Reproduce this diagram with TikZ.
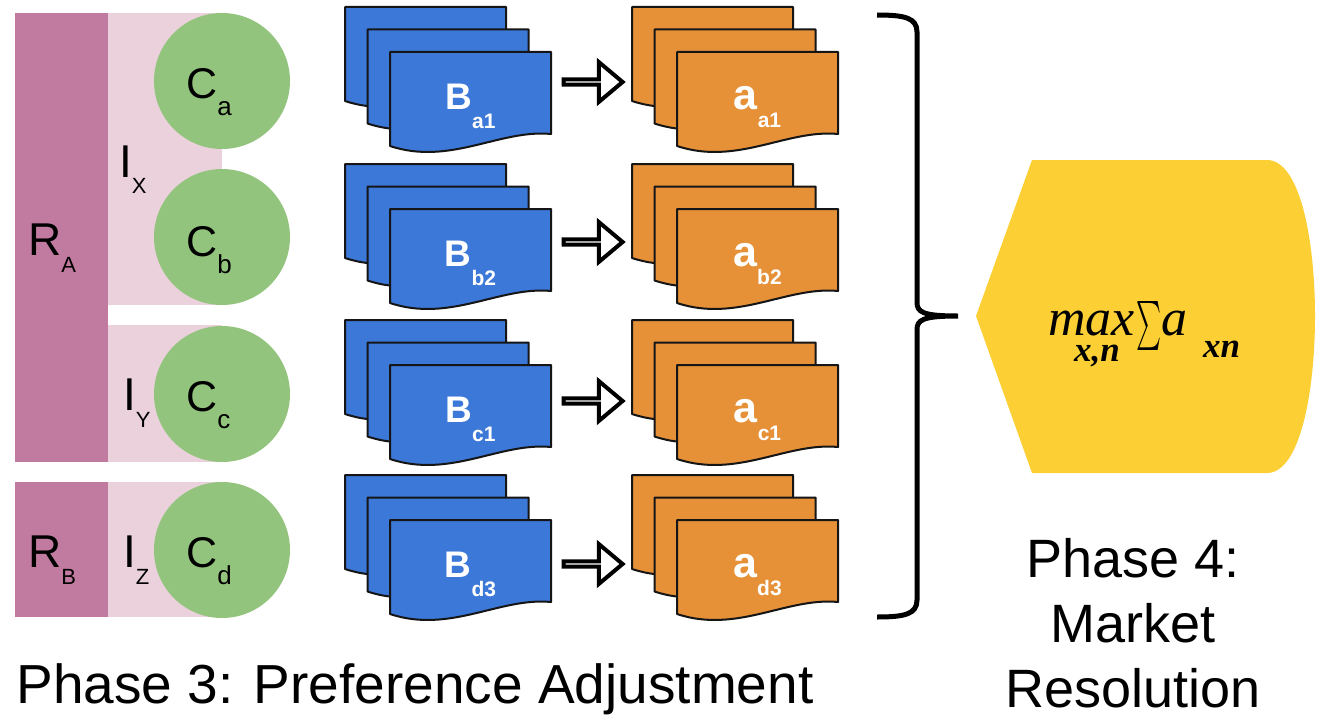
\documentclass[tikz,border=0pt]{standalone}
\usepackage{fontspec}
\setmainfont{Liberation Sans}
\newfontfamily\formulafont{Liberation Serif}
\usetikzlibrary{shapes.arrows,calc}

\definecolor{roleDark}{HTML}{C27BA0}
\definecolor{roleLight}{HTML}{EAD1DC}
\definecolor{clientGreen}{HTML}{93C47D}
\definecolor{bidBlue}{HTML}{3C78D8}
\definecolor{askOrange}{HTML}{E69138}
\definecolor{mktYellow}{RGB}{252,208,53}
\definecolor{docline}{HTML}{151515}

% font size helper and lowered subscript
\newcommand\fs[1]{\fontsize{#1}{#1}\selectfont}
\newcommand\dn[3]{\raisebox{-#1}{\fs{#2}#3}}

% one sheet of a document stack: top-left corner, colour
\newcommand\docsheet[3]{%
  \filldraw[fill=#3, draw=docline, line width=2pt, line join=round]
    ({#1},{#2}) -- ++(161,0) -- ++(0,82)
    .. controls +(-51,-5) and +(60,20) .. ++(-161,12) -- cycle;}

% stack of three sheets with a label on the front one
\newcommand\docstack[5]{%
  \docsheet{#2}{#3}{#4}
  \docsheet{#2+22.5}{#3+22.5}{#4}
  \docsheet{#2+45}{#3+45}{#4}
  \node[inner sep=0, outer sep=0, minimum width=161, minimum height=94, anchor=north west] (#1) at ({#2+45},{#3+45}) {};
  \node[doclabel] (#1-t) at ({#2+125.5},{#3+102}) {#5};}

\tikzset{
  roleblock/.style={fill=roleDark, inner sep=0, outer sep=0, anchor=north west},
  linkblock/.style={fill=roleLight, inner sep=0, outer sep=0, anchor=north west},
  client/.style={circle, fill=clientGreen, minimum size=136, inner sep=0},
  lbl/.style={anchor=base west, inner sep=0, text=black},
  doclabel/.style={anchor=base, inner sep=0, text=white, font=\bfseries},
  hollowarrow/.style={single arrow, draw=black, fill=white, line width=4pt,
    minimum height=59pt, minimum width=40pt, single arrow head extend=13pt,
    single arrow tip angle=80, inner sep=0pt, line join=miter},
  phase/.style={anchor=base, inner sep=0, font=\fs{54}},
}

\begin{document}
\begin{tikzpicture}[x=1pt,y=-1pt]
\fill[white] (0,0) rectangle (1322,717);
\useasboundingbox (0,0) rectangle (1322,717);

% resource owners and intermediaries
\node[linkblock, minimum width=114, minimum height=292] (IX) at (108,13) {};
\node[linkblock, minimum width=114, minimum height=137] (IY) at (108,325) {};
\node[linkblock, minimum width=114, minimum height=135] (IZ) at (108,482) {};
\node[roleblock, minimum width=93, minimum height=449] (RA) at (15,13) {};
\node[roleblock, minimum width=93, minimum height=135] (RB) at (15,482) {};

% clients
\node[client] (Ca) at (222,81) {};
\node[client] (Cb) at (222,237) {};
\node[client] (Cc) at (222,394) {};
\node[client] (Cd) at (222,550) {};

\node[lbl, font=\fs{46}] (RA-t) at (28,255) {R\dn{17pt}{22}{A}};
\node[lbl, font=\fs{46}] (RB-t) at (28,567) {R\dn{17pt}{22}{B}};
\node[lbl, font=\fs{46}] (IX-t) at (119,177) {I\dn{16pt}{22}{X}};
\node[lbl, font=\fs{46}] (IY-t) at (123,410) {I\dn{17pt}{22}{Y}};
\node[lbl, font=\fs{46}] (IZ-t) at (123,567) {I\dn{17pt}{22}{Z}};
\node[lbl, font=\fs{43}] (Ca-t) at (186,99) {C\dn{17pt}{26}{a}};
\node[lbl, font=\fs{43}] (Cb-t) at (186,256) {C\dn{17pt}{26}{b}};
\node[lbl, font=\fs{43}] (Cc-t) at (186,411) {C\dn{17pt}{26}{c}};
\node[lbl, font=\fs{43}] (Cd-t) at (186,567) {C\dn{17pt}{26}{d}};

% bids and asks
\docstack{Ba1}{345}{7}{bidBlue}{{\fs{37}B}\dn{19pt}{21}{a1}}
\docstack{Bb2}{345}{164}{bidBlue}{{\fs{37}B}\dn{19pt}{21}{b2}}
\docstack{Bc1}{345}{320}{bidBlue}{{\fs{37}B}\dn{19pt}{21}{c1}}
\docstack{Bd3}{345}{475}{bidBlue}{{\fs{37}B}\dn{19pt}{21}{d3}}
\docstack{Aa1}{632}{7}{askOrange}{{\fs{43}a}\dn{18pt}{21}{a1}}
\docstack{Ab2}{632}{164}{askOrange}{{\fs{43}a}\dn{18pt}{21}{b2}}
\docstack{Ac1}{632}{320}{askOrange}{{\fs{43}a}\dn{18pt}{21}{c1}}
\docstack{Ad3}{632}{475}{askOrange}{{\fs{43}a}\dn{18pt}{21}{d3}}

\node[hollowarrow] (arr1) at (591.5,82) {};
\node[hollowarrow] (arr2) at (591.5,242) {};
\node[hollowarrow] (arr3) at (591.5,401) {};
\node[hollowarrow] (arr4) at (591.5,564) {};

% brace collecting all asks
\draw[line width=5pt, line cap=butt, line join=miter]
  (877,15) .. controls (905,15) and (917,18) .. (917,32) -- (917,302)
  .. controls (917,312) and (922,316) .. (958,316)
  .. controls (922,316) and (917,320) .. (917,330) -- (917,600)
  .. controls (917,614) and (905,617) .. (877,617);

% market resolution
\fill[mktYellow] (976,316) -- (1032,160) -- (1267,160)
  .. controls (1300,160) and (1315,240) .. (1315,316)
  .. controls (1315,392) and (1300,473) .. (1267,473)
  -- (1032,473) -- cycle;
\node[anchor=base west, inner sep=0, font=\formulafont\itshape\fs{52}] (fmax) at (1048,335) {max};
\node[anchor=base, inner sep=0, font=\formulafont\bfseries\itshape\fs{35}] (fidx) at (1097,361) {x,n};
\node[inner sep=0] (fsum) at (1149,326) {\resizebox*{25pt}{49pt}{$\sum$}};
\node[anchor=base west, inner sep=0, font=\formulafont\itshape\fs{52}] (fa) at (1161,335) {a};
\node[anchor=base west, inner sep=0, font=\formulafont\bfseries\itshape\fs{35}] (fsub) at (1203,357) {xn};

% phase captions
\node[phase, font=\fs{55}] (ph3) at (415,703) {Phase 3: Preference Adjustment};
\node[phase] (ph4a) at (1133,577) {Phase 4:};
\node[phase] (ph4b) at (1133,642) {Market};
\node[phase] (ph4c) at (1133,707) {Resolution};
\end{tikzpicture}
\end{document}
